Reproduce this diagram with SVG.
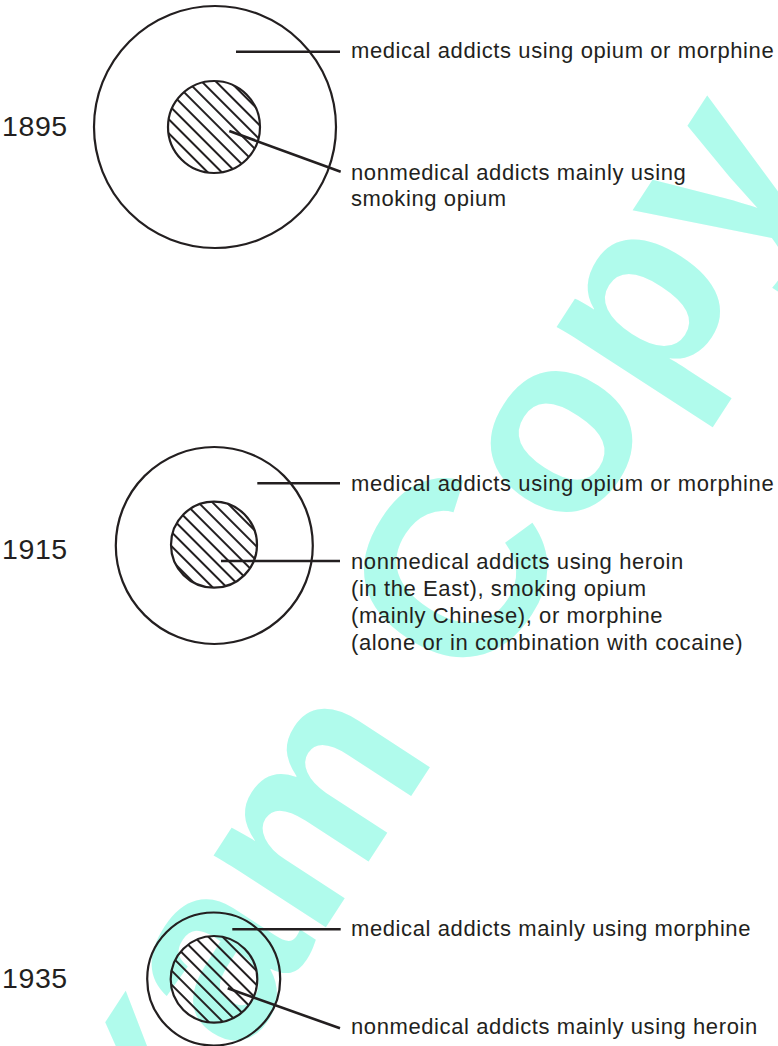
<svg xmlns="http://www.w3.org/2000/svg" width="778" height="1046" viewBox="0 0 778 1046">
<style>
.wm{font-family:"Liberation Sans",Arial,sans-serif;font-weight:bold;font-size:252px;fill:#b0fbec}
.lbl{font-family:"Liberation Sans",Arial,sans-serif;font-size:22px;letter-spacing:0.6px;fill:#231f20}
.yr{font-family:"Liberation Sans",Arial,sans-serif;font-size:28.5px;letter-spacing:0.6px;fill:#231f20}
.outer{fill:none;stroke:#231f20;stroke-width:2.2}
.inner{fill:url(#hatch);stroke:#231f20;stroke-width:2.2}
.conn{stroke:#231f20;stroke-width:2.6;fill:none}
</style>
<defs>
<pattern id="hatch" patternUnits="userSpaceOnUse" width="10" height="10" patternTransform="rotate(-45)">
<line x1="5" y1="-1" x2="5" y2="11" stroke="#231f20" stroke-width="2"/>
</pattern>
</defs>
<rect width="778" height="1046" fill="#ffffff"/>
<text class="wm" transform="translate(72,1318) rotate(-57)">Exam Copy</text>

<g id="n1895">
<text class="yr" x="2" y="136">1895</text>
<circle class="outer" cx="215" cy="127" r="121"/>
<circle class="inner" cx="214" cy="127" r="46"/>
<text class="lbl" x="351" y="58">medical addicts using opium or morphine</text>
<text class="lbl" x="351" y="180">nonmedical addicts mainly using</text>
<text class="lbl" x="351" y="206">smoking opium</text>
</g>

<g id="n1915">
<text class="yr" x="2" y="559">1915</text>
<circle class="outer" cx="214.3" cy="545.5" r="98.5"/>
<circle class="inner" cx="214" cy="544.7" r="43"/>
<text class="lbl" x="351" y="491">medical addicts using opium or morphine</text>
<text class="lbl" x="351" y="569">nonmedical addicts using heroin</text>
<text class="lbl" x="351" y="596">(in the East), smoking opium</text>
<text class="lbl" x="351" y="623">(mainly Chinese), or morphine</text>
<text class="lbl" x="351" y="650">(alone or in combination with cocaine)</text>
</g>

<g id="n1935">
<text class="yr" x="2" y="988">1935</text>
<circle class="outer" cx="213.7" cy="979" r="66.5"/>
<circle class="inner" cx="214" cy="979.3" r="43.3"/>
<text class="lbl" x="351" y="936">medical addicts mainly using morphine</text>
<text class="lbl" x="351" y="1034">nonmedical addicts mainly using heroin</text>
</g>

<g id="connectors">
<line class="conn" x1="236" y1="51.7" x2="340" y2="51.7"/>
<line class="conn" x1="229.3" y1="131" x2="340.7" y2="171.7"/>
<line class="conn" x1="257.3" y1="483.3" x2="340" y2="483.3"/>
<line class="conn" x1="221" y1="561" x2="340" y2="561"/>
<line class="conn" x1="232.3" y1="929.3" x2="340.7" y2="929.3"/>
<line class="conn" x1="227.7" y1="988.3" x2="340" y2="1028.3"/>
</g>
</svg>
